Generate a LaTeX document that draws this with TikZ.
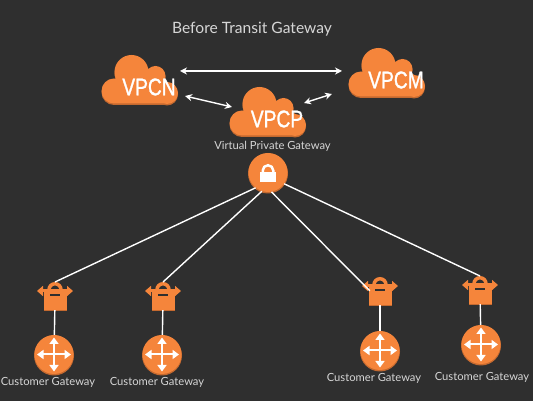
\documentclass[tikz,border=0pt]{standalone}
\usepackage{fontspec}
\setmainfont{Lato}
\newfontfamily\vpcfont[FakeBold=1.4]{Liberation Sans}
\usetikzlibrary{arrows.meta}
\definecolor{bgdark}{HTML}{2F2F2F}
\definecolor{awsorange}{HTML}{F5853B}
\definecolor{awsshade}{HTML}{C4692F}
\definecolor{softgrey}{HTML}{D6D6D6}
\tikzset{
  link/.style={draw=white,line width=1.4pt},
  peer/.style={link,{Stealth[length=7pt,width=7pt]}-{Stealth[length=7pt,width=7pt]}},
  vpctext/.style={text=white,inner sep=0pt,font=\vpcfont\fontsize{24}{24}\selectfont},
  caption/.style={text=softgrey,inner sep=0pt,font=\fontsize{11.2}{13}\selectfont},
  gwdot/.style={circle,fill=awsorange,inner sep=0pt,minimum size=39pt},
  lockbody/.style={rectangle,fill=awsorange,inner sep=0pt,minimum width=23pt,minimum height=19pt},
  cross/.style={draw=white,line width=2pt,-{Triangle[length=6.5pt,width=9pt]}}
}
\newcommand{\cloudshape}[3]{
  \fill[#3] (#1,#2) ++(-26,-10) circle (12.5)
    (#1,#2) ++(-8.5,9) circle (17)
    (#1,#2) ++(15.5,5) circle (10)
    (#1,#2) ++(27,-12) circle (11)
    (#1,#2) ++(27,-22.5) rectangle ++(-53,22);
}
\newcommand{\vpccloud}[4]{
  \cloudshape{#2}{#3-1.5}{awsshade}
  \cloudshape{#2}{#3}{awsorange}
  \node[vpctext] (#1) at (#2+9,#3-6) {\scalebox{0.8}[1]{#4}};
}
\newcommand{\lockicon}[3]{
  \draw[awsorange,line width=3.5pt] (#2-6,#3) -- ++(0,1.25) arc (180:0:6) -- ++(0,-1.25);
  \fill[awsshade] (#2-11.5,#3-20.5) rectangle (#2+11.5,#3-18);
  \node[lockbody] (#1) at (#2,#3-9.5) {};
  \coordinate (#1top) at (#2,#3+9);
  \fill[bgdark] (#2-5,#3-5.5) rectangle (#2+5,#3-3);
  \draw[awsorange,line width=3pt,{Triangle[length=6pt,width=10pt]}-{Triangle[length=6pt,width=10pt]}] (#2-18,#3) -- (#2+18,#3);
}
\newcommand{\routerdot}[3]{
  \fill[awsshade] (#2,#3-0.5) circle (20);
  \node[gwdot] (#1) at (#2,#3+0.5) {};
  \draw[cross] (#1.center) -- ++(17,0);
  \draw[cross] (#1.center) -- ++(-17,0);
  \draw[cross] (#1.center) -- ++(0,17);
  \draw[cross] (#1.center) -- ++(0,-17);
}
\begin{document}
\begin{tikzpicture}[x=1pt,y=1pt]
  \fill[bgdark] (0,0) rectangle (533,401);
  \useasboundingbox (0,0) rectangle (533,401);
  \node[caption,font=\fontsize{15.6}{17}\selectfont] (title) at (252,372) {Before Transit Gateway};

  \vpccloud{vpcn}{140}{320}{VPCN}
  \vpccloud{vpcm}{387}{327}{VPCM}
  \vpccloud{vpcp}{268}{288}{VPCP}
  \node[caption] (vgwtext) at (272.5,255) {Virtual Private Gateway};

  \coordinate (nright) at (180,330);
  \coordinate (mleft) at (342,330);
  \coordinate (nlow) at (185,305);
  \coordinate (pleft) at (232,294);
  \coordinate (pright) at (304,298);
  \coordinate (mlow) at (332,307);
  \draw[peer] (nright) -- (mleft);
  \draw[peer] (nlow) -- (pleft);
  \draw[peer] (pright) -- (mlow);

  \lockicon{lockA}{55}{110}
  \lockicon{lockB}{163}{110}
  \lockicon{lockC}{380}{115}
  \lockicon{lockD}{480}{116}
  \routerdot{routerA}{54}{46}
  \routerdot{routerB}{162}{46}
  \routerdot{routerC}{380}{50}
  \routerdot{routerD}{481}{56}

  \fill[awsshade] (268,227.5) circle (20);
  \node[gwdot] (vgw) at (268,228.5) {};
  \fill[white] (260,219) rectangle (276,229);
  \draw[white,line width=2.5pt] (262.75,229) -- ++(0,1.5) arc (180:0:5.25) -- ++(0,-1.5);

  \draw[link] (vgw.231) -- (lockAtop);
  \draw[link] (vgw.252) -- (lockBtop);
  \draw[link] (vgw.280) -- ([shift={(1.5,-5)}]lockC.north west);
  \draw[link] (vgw.325) -- (lockDtop);
  \draw[link] (lockA) -- (routerA);
  \draw[link] (lockB) -- (routerB);
  \draw[link] (lockC) -- (routerC);
  \draw[link] (lockD) -- (routerD);

  \node[caption] (cgwA) at (48,19) {Customer Gateway};
  \node[caption] (cgwB) at (157,19) {Customer Gateway};
  \node[caption] (cgwC) at (374,23) {Customer Gateway};
  \node[caption] (cgwD) at (482,24) {Customer Gateway};
\end{tikzpicture}
\end{document}
